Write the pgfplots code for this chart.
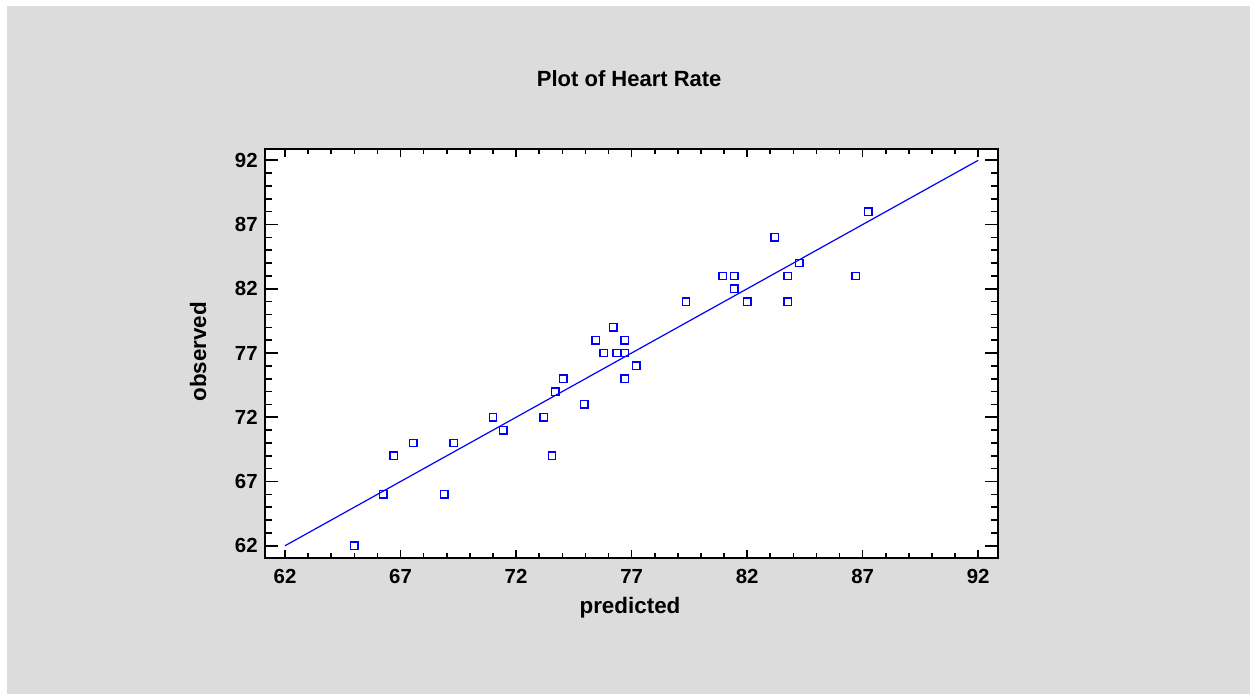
\documentclass[border=0pt]{standalone}
\usepackage{pgfplots}
\pgfplotsset{compat=1.18}
\usepackage{fontspec}
\setmainfont{Liberation Sans}
\definecolor{bg}{RGB}{220,220,220}
\definecolor{pblue}{RGB}{0,0,255}
\begin{document}
\begin{tikzpicture}[x=1pt,y=1pt]
\fill[white] (0,0) rectangle (625,347);
\fill[bg] (3.5,0) rectangle (625,344);
\begin{axis}[
  at={(132.35pt,68.15pt)}, anchor=south west,
  scale only axis, width=366.8pt, height=204.35pt,
  xmin=61.12, xmax=92.87, ymin=61.07, ymax=92.88,
  axis background/.style={fill=white},
  axis line style={line width=1pt},
  xtick={62,67,...,92}, ytick=\empty,
  minor x tick num=4,
  tick align=inside,
  major tick length=4pt, minor tick length=2.5pt,
  every tick/.style={black, line width=0.8pt},
  xticklabel style={font=\fontsize{10.2}{12}\selectfont\bfseries, yshift=-2.5pt},
  /pgf/number format/assume math mode=true,
  clip=false,
]
\addplot[pblue, line width=0.6pt] coordinates {(62,62) (92,92)};
\addplot[only marks, mark=square, mark size=1.85pt, mark options={pblue, line width=0.7pt}] coordinates {
(65.0,62) (66.25,66) (66.7,69) (67.55,70) (68.9,66) (69.3,70)
(71.0,72) (71.45,71) (73.2,72) (73.55,69) (73.7,74) (74.05,75)
(74.95,73) (75.45,78) (75.8,77) (76.2,79) (76.35,77) (76.7,77)
(76.7,78) (76.7,75) (77.2,76) (79.35,81) (80.95,83) (81.45,83)
(81.45,82) (82.0,81) (83.2,86) (83.75,83) (83.75,81) (84.25,84)
(86.7,83) (87.25,88)
};
\end{axis}
\begin{axis}[
  at={(132.35pt,68.15pt)}, anchor=south west,
  scale only axis, width=366.8pt, height=204.35pt,
  xmin=61.12, xmax=92.87, ymin=61.07, ymax=92.88,
  axis line style={line width=1pt},
  ytick={62,67,...,92}, xtick=\empty,
  minor y tick num=4,
  tick align=inside,
  major tick length=6.5pt, minor tick length=3.5pt,
  every tick/.style={black, line width=0.8pt},
  yticklabel style={font=\fontsize{10.2}{12}\selectfont\bfseries},
  /pgf/number format/assume math mode=true,
]
\end{axis}
\node[anchor=base, font=\fontsize{11}{13}\selectfont\bfseries] at (314.6,303.65) {Plot of Heart Rate};
\node[anchor=base, font=\fontsize{11.2}{13}\selectfont\bfseries] at (315,40.35) {predicted};
\node[anchor=base, rotate=90, font=\fontsize{11.2}{13}\selectfont\bfseries] at (103,171.15) {observed};
\end{tikzpicture}
\end{document}
